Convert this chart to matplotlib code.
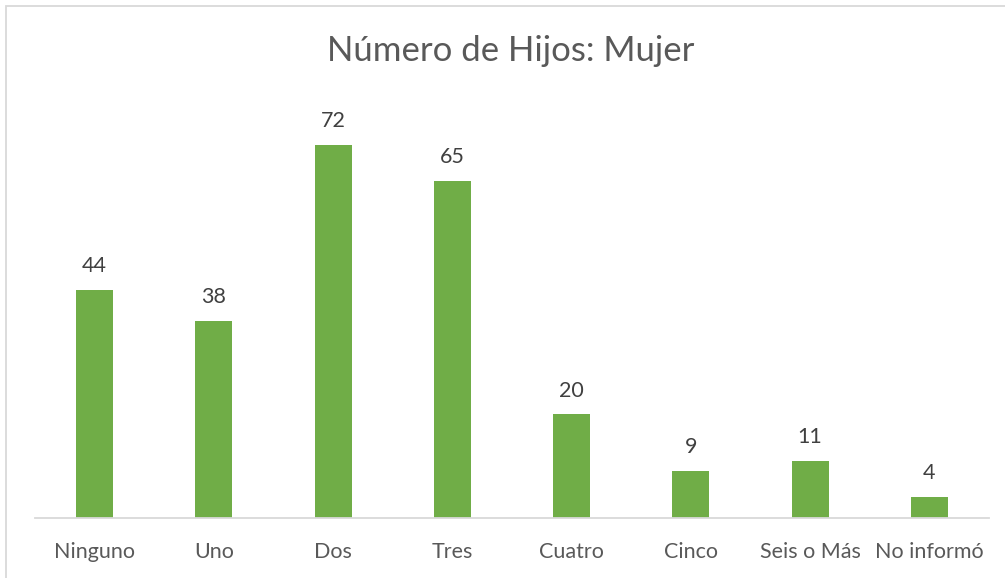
import matplotlib
matplotlib.use("Agg")
import matplotlib.pyplot as plt
from matplotlib.patches import Rectangle

categories = ["Ninguno", "Uno", "Dos", "Tres", "Cuatro", "Cinco", "Seis o Más", "No informó"]
values = [44, 38, 72, 65, 20, 9, 11, 4]
title = "Número de Hijos: Mujer"

W, H = 1005, 578
fig = plt.figure(figsize=(W / 100, H / 100), dpi=100)
plt.rcParams['font.family'] = ['Lato', 'DejaVu Sans']

# outer border
fig.patches.append(Rectangle((5.5 / W, -0.01), 1.1, 1.01 - 5.5 / H, transform=fig.transFigure,
                             fill=False, edgecolor="#D9D9D9", linewidth=1.3))

base = 518
ppu = 5.18
ymax = 80
top = base - ymax * ppu
ax = fig.add_axes([35 / W, (H - base) / H, (989 - 35) / W, (base - top) / H])
x = list(range(len(categories)))
bars = ax.bar(x, values, width=0.31, color="#70AD47")
ax.set_xlim(-0.5, len(categories) - 0.5)
ax.set_ylim(0, ymax)
for s in ["top", "right", "left"]:
    ax.spines[s].set_visible(False)
ax.spines["bottom"].set_color("#D9D9D9")
ax.spines["bottom"].set_linewidth(1.3)
ax.set_yticks([])
ax.set_xticks(x)
ax.set_xticklabels(categories, fontsize=15.5, color="#595959")
ax.tick_params(axis="x", length=0, pad=17)
for xi, v in zip(x, values):
    ax.annotate(str(v), (xi, v), xytext=(0, 10), textcoords="offset points",
                ha="center", va="bottom", fontsize=15.5, color="#404040")
fig.text(511 / W, (H - 51) / H, title, ha="center", va="center", fontsize=25, color="#595959")
fig.savefig("out.png", dpi=100)
